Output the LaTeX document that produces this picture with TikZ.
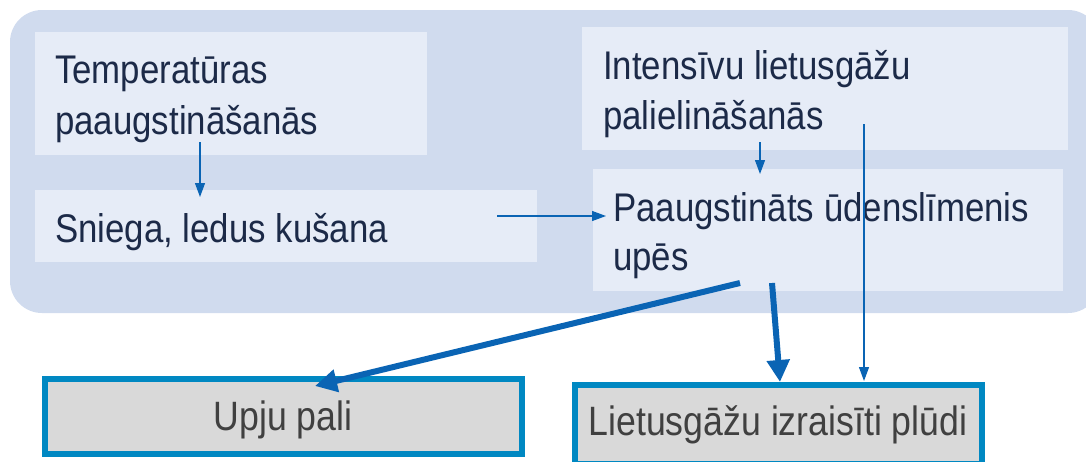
\documentclass[tikz,border=0pt]{standalone}
\usepackage{fontspec}
\setmainfont[FakeStretch=0.87]{Liberation Sans}
\usetikzlibrary{arrows.meta}
\definecolor{bgblue}{HTML}{D0DBEE}
\definecolor{boxblue}{HTML}{E6ECF7}
\definecolor{txtblue}{HTML}{1C2A48}
\definecolor{arrblue}{HTML}{0A64B4}
\definecolor{bordcyan}{HTML}{0088C2}
\definecolor{boxgray}{HTML}{D9D9D9}
\definecolor{txtgray}{HTML}{404040}
\tikzset{
  lightbox/.style={fill=boxblue, draw=none},
  lbl/.style={anchor=base west, inner sep=0pt, text=txtblue, font=\fontsize{40}{49}\selectfont, align=left},
  resbox/.style={fill=boxgray, draw=bordcyan, line width=6pt},
  reslbl/.style={anchor=base, inner sep=0pt, text=txtgray, font=\fontsize{41}{49}\selectfont},
  thinarr/.style={draw=arrblue, line width=1.2pt, -{Triangle[width=10pt,length=14pt]}, fill=arrblue},
  thickarr/.style={draw=arrblue, line width=6pt, -{Triangle[width=22pt,length=22pt]}, fill=arrblue},
}
\begin{document}
\begin{tikzpicture}[x=1pt,y=-1pt]
\useasboundingbox (0,0) rectangle (1086,461);
\fill[bgblue, rounded corners=32pt] (10,10) rectangle (1100,313);
% light boxes
\path[lightbox] (35,32) rectangle (427,155) node[midway] (bt) {};
\path[lightbox] (35,190) rectangle (537,262) node[midway] (bs) {};
\path[lightbox] (582,27) rectangle (1068,150) node[midway] (bi) {};
\path[lightbox] (593,169) rectangle (1063,291) node[midway] (bp) {};
% labels
\node[lbl] (tt) at (55,83) {Temperatūras};
\node[lbl] (tt2) at (55,134) {paaugstināšanās};
\node[lbl] (ts) at (55,242) {Sniega, ledus kušana};
\node[lbl] (ti) at (603,79) {Intensīvu lietusgāžu};
\node[lbl] (ti2) at (603,129) {palielināšanās};
\node[lbl] (tp) at (613,221) {Paaugstināts ūdenslīmenis};
\node[lbl] (tp2) at (613,270) {upēs};
% result boxes
\draw[resbox] (45,379) rectangle (522,454);
\node[reslbl] (up) at (283,430) {Upju pali};
\draw[resbox] (575,385) rectangle (982,464);
\node[reslbl] (lp) at (778,435) {Lietusgāžu izraisīti plūdi};
% arrow coordinates
\coordinate (a1s) at (200,142);
\coordinate (a1e) at (200,197);
\coordinate (a2s) at (760,142);
\coordinate (a2e) at (760,174);
\coordinate (a3s) at (497,216);
\coordinate (a3e) at (606,216);
\coordinate (a4s) at (864,124);
\coordinate (a4e) at (864,381);
\coordinate (a5s) at (740,283);
\coordinate (a5e) at (315,386);
\coordinate (a6s) at (772,283);
\coordinate (a6e) at (780,382);
\draw[thinarr] (a1s) -- (a1e);
\draw[thinarr] (a2s) -- (a2e);
\draw[thinarr] (a3s) -- (a3e);
\draw[thinarr] (a4s) -- (a4e);
\draw[thickarr] (a5s) -- (a5e);
\draw[thickarr] (a6s) -- (a6e);
\end{tikzpicture}
\end{document}
